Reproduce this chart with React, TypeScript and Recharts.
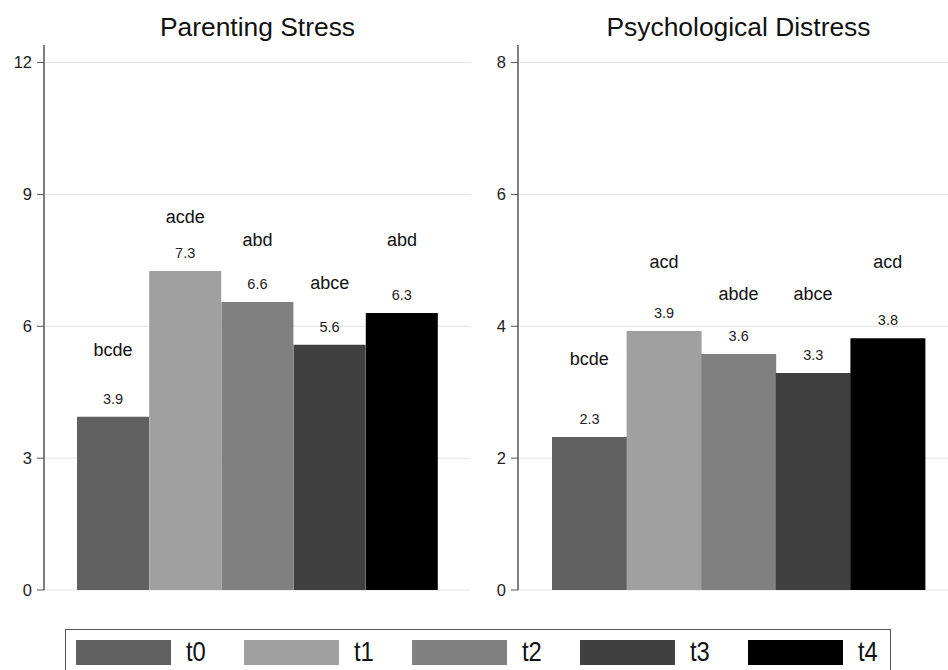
import React from "react";
import {
  ComposedChart,
  Bar,
  Line,
  Cell,
  XAxis,
  YAxis,
  CartesianGrid,
  LabelList,
} from "recharts";

const categories = ["t0", "t1", "t2", "t3", "t4"];
const colors = ["#606060", "#a0a0a0", "#808080", "#404040", "#000000"];

const stressValues = [3.94, 7.26, 6.55, 5.58, 6.3];
const stressLabels = ["3.9", "7.3", "6.6", "5.6", "6.3"];
const stressLetters = ["bcde", "acde", "abd", "abce", "abd"];
const stressLetterY = [5.46, 8.49, 7.97, 6.99, 7.97];
const stressTicks = [0, 3, 6, 9, 12];

const distressValues = [2.32, 3.93, 3.58, 3.29, 3.82];
const distressLabels = ["2.3", "3.9", "3.6", "3.3", "3.8"];
const distressLetters = ["bcde", "acd", "abde", "abce", "acd"];
const distressLetterY = [3.51, 4.98, 4.49, 4.49, 4.98];
const distressTicks = [0, 2, 4, 6, 8];

const font = "'Liberation Sans', Arial, sans-serif";

const makeRows = (
  values: number[],
  labels: string[],
  letters: string[],
  letterY: number[]
) =>
  categories.map((name, i) => ({
    name,
    value: values[i],
    label: labels[i],
    letters: letters[i],
    letterY: letterY[i],
  }));

type PanelProps = {
  title: string;
  rows: ReturnType<typeof makeRows>;
  ticks: number[];
  left: number;
  width: number;
  pad: number;
};

const Panel: React.FC<PanelProps> = ({ title, rows, ticks, left, width, pad }) => {
  const top = ticks[ticks.length - 1] * 1.0333;
  const plotCenter = 44 + (width - 47) / 2;
  return (
    <div style={{ position: "absolute", left, top: 0, width, height: 600 }}>
      <div
        style={{
          position: "absolute",
          left: plotCenter - 200,
          width: 400,
          top: 11,
          textAlign: "center",
          fontFamily: font,
          fontSize: 26.4,
          lineHeight: "32px",
          color: "#111",
        }}
      >
        {title}
      </div>
      <ComposedChart
        width={width}
        height={600}
        data={rows}
        margin={{ top: 45, right: 3, bottom: 10, left: 0 }}
        barCategoryGap={0}
        barGap={0}
      >
        <CartesianGrid vertical={false} stroke="#e3e3e3" horizontalValues={ticks} />
        <XAxis
          dataKey="name"
          tick={false}
          tickLine={false}
          height={0}
          padding={{ left: pad, right: pad }}
          axisLine={{ stroke: "#555", strokeWidth: 1.5 }}
        />
        <XAxis
          xAxisId="top"
          orientation="top"
          dataKey="name"
          tick={false}
          tickLine={false}
          height={0}
          axisLine={{ stroke: "#777", strokeWidth: 1.5 }}
        />
        <YAxis
          domain={[0, top]}
          ticks={ticks}
          width={44}
          tickSize={7}
          tickMargin={5}
          interval={0}
          tickLine={{ stroke: "#555" }}
          axisLine={{ stroke: "#555", strokeWidth: 1.5 }}
          tick={{ fontSize: 16.5, fill: "#222", fontFamily: font }}
        />
        <YAxis
          yAxisId="right"
          orientation="right"
          domain={[0, top]}
          width={0}
          tick={false}
          tickLine={false}
          axisLine={{ stroke: "#777", strokeWidth: 1.5 }}
        />
        <Bar dataKey="value" isAnimationActive={false}>
          {rows.map((r, i) => (
            <Cell key={r.name} fill={colors[i]} />
          ))}
          <LabelList
            dataKey="label"
            position="top"
            offset={13}
            style={{ fontSize: 14.5, fill: "#222", fontFamily: font }}
          />
        </Bar>
        <Line
          dataKey="letterY"
          stroke="none"
          dot={false}
          activeDot={false}
          legendType="none"
          isAnimationActive={false}
        >
          <LabelList
            dataKey="letters"
            position="center"
            style={{ fontSize: 18, fill: "#111", fontFamily: font }}
          />
        </Line>
      </ComposedChart>
    </div>
  );
};

const Legend: React.FC = () => (
  <div
    style={{
      position: "absolute",
      left: 65,
      top: 629,
      width: 824,
      height: 50,
      border: "1.5px solid #555",
      background: "#fff",
    }}
  >
    {categories.map((c, i) => (
      <div key={c}>
        <div
          style={{
            position: "absolute",
            left: 10 + i * 168,
            top: 10,
            width: 95,
            height: 25,
            background: colors[i],
          }}
        />
        <div
          style={{
            position: "absolute",
            left: 120 + i * 168,
            top: 5,
            fontFamily: font,
            fontSize: 28,
            lineHeight: "34px",
            color: "#111",
            transform: "scaleX(0.85)",
            transformOrigin: "left center",
          }}
        >
          {c}
        </div>
      </div>
    ))}
  </div>
);

export default function App() {
  const stressRows = makeRows(stressValues, stressLabels, stressLetters, stressLetterY);
  const distressRows = makeRows(distressValues, distressLabels, distressLetters, distressLetterY);
  return (
    <div
      style={{
        position: "absolute",
        left: 0,
        top: 0,
        width: 948,
        height: 670,
        overflow: "hidden",
        background: "#fff",
      }}
    >
      <Panel title="Parenting Stress" rows={stressRows} ticks={stressTicks} left={0} width={474} pad={33} />
      <Panel
        title="Psychological Distress"
        rows={distressRows}
        ticks={distressTicks}
        left={474}
        width={488}
        pad={34}
      />
      <Legend />
    </div>
  );
}
